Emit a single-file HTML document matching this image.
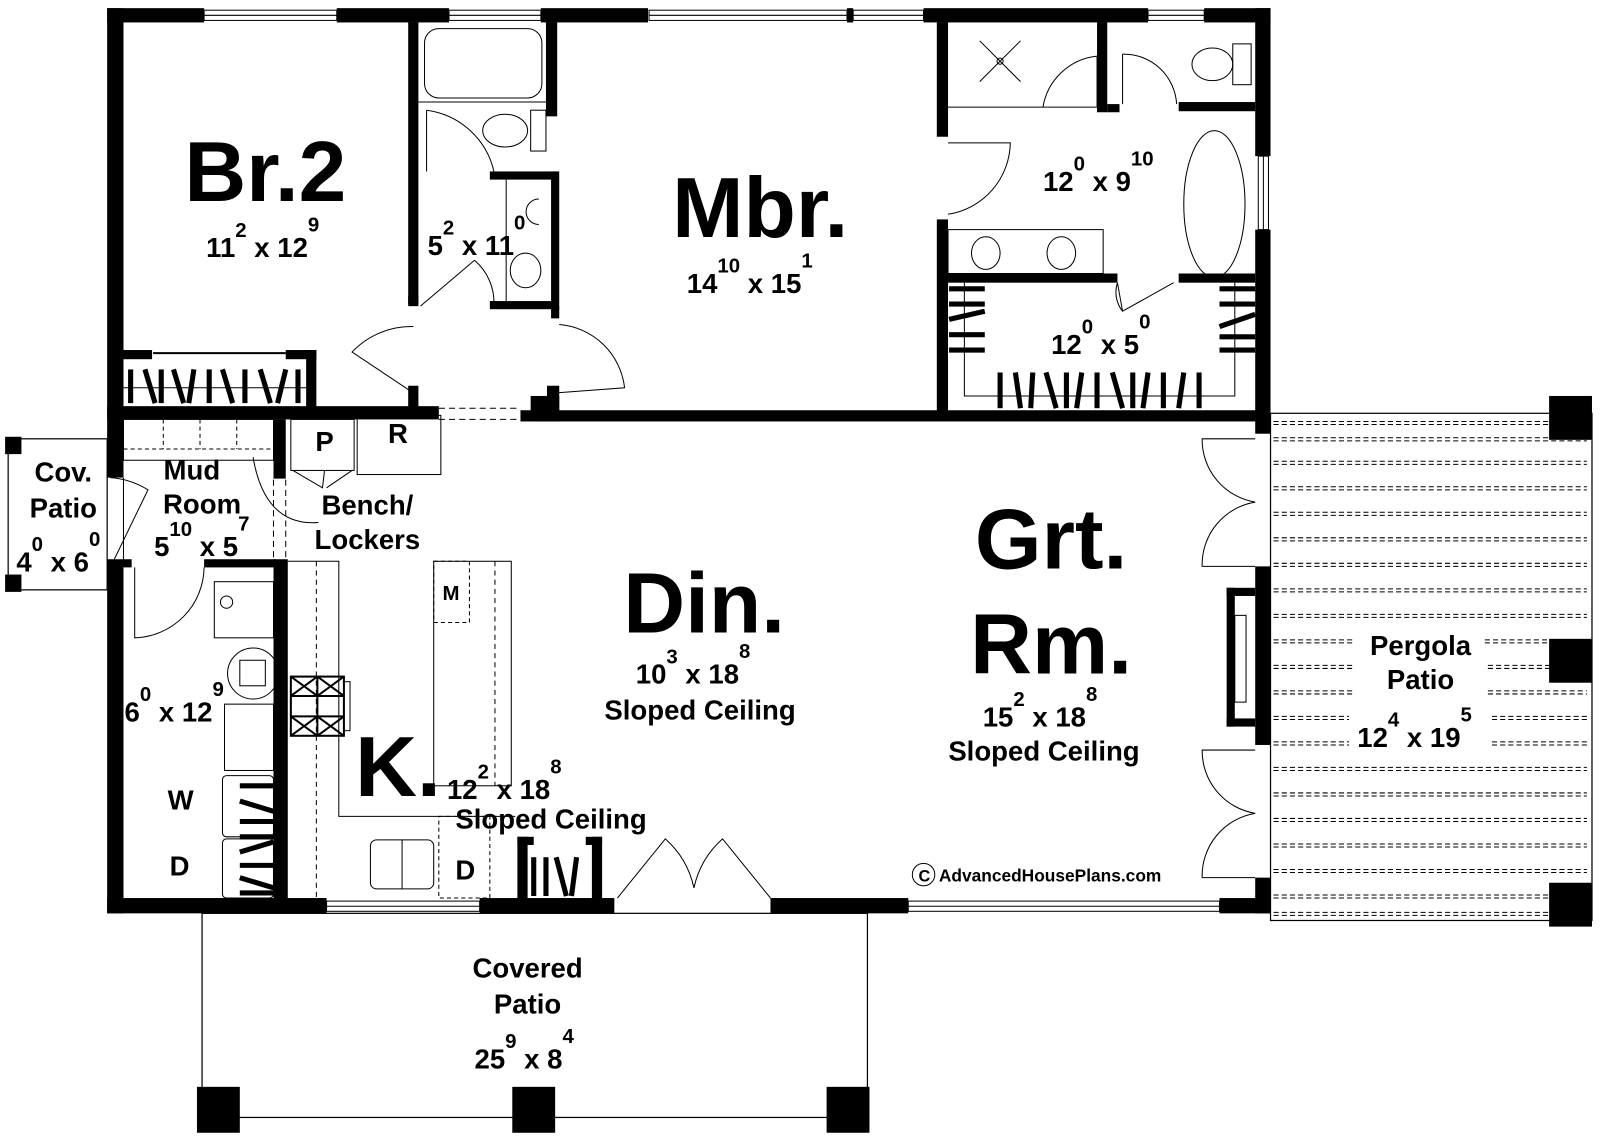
<!DOCTYPE html>
<html><head><meta charset="utf-8"><style>
html,body{margin:0;padding:0;background:#fff}
svg{display:block}
text{font-family:"Liberation Sans",Arial,sans-serif;fill:#000}
.big{font-weight:bold;font-size:84px}
.d{font-size:27px;font-weight:bold}
.s{font-size:20px;font-weight:bold}
.l{font-size:27px;font-weight:bold}
</style></head><body>
<svg width="1600" height="1139" viewBox="0 0 1600 1139" xmlns="http://www.w3.org/2000/svg">
<rect width="1600" height="1139" fill="#fff"/>
<g transform="scale(1.0205)">
<g fill="none" stroke="#000" stroke-width="1.2">
<rect x="8" y="430" width="97" height="148"/>
<rect x="198" y="895" width="652" height="200"/>
<rect x="1245" y="405" width="315" height="497"/>
</g>
<g stroke="#000" stroke-width="1" stroke-dasharray="5 3">
<line x1="1248" y1="413" x2="1555" y2="413"/><line x1="1248" y1="416" x2="1555" y2="416"/>
<line x1="1248" y1="429" x2="1555" y2="429"/><line x1="1248" y1="432" x2="1555" y2="432"/>
<line x1="1248" y1="452" x2="1555" y2="452"/><line x1="1248" y1="455" x2="1555" y2="455"/>
<line x1="1248" y1="477" x2="1555" y2="477"/><line x1="1248" y1="480" x2="1555" y2="480"/>
<line x1="1248" y1="502" x2="1555" y2="502"/><line x1="1248" y1="505" x2="1555" y2="505"/>
<line x1="1248" y1="527" x2="1555" y2="527"/><line x1="1248" y1="530" x2="1555" y2="530"/>
<line x1="1248" y1="552" x2="1555" y2="552"/><line x1="1248" y1="555" x2="1555" y2="555"/>
<line x1="1248" y1="577" x2="1555" y2="577"/><line x1="1248" y1="580" x2="1555" y2="580"/>
<line x1="1248" y1="602" x2="1555" y2="602"/><line x1="1248" y1="605" x2="1555" y2="605"/>
<line x1="1248" y1="627" x2="1325" y2="627"/><line x1="1248" y1="630" x2="1325" y2="630"/>
<line x1="1455" y1="627" x2="1555" y2="627"/><line x1="1455" y1="630" x2="1555" y2="630"/>
<line x1="1248" y1="652" x2="1325" y2="652"/><line x1="1248" y1="655" x2="1325" y2="655"/>
<line x1="1458" y1="652" x2="1555" y2="652"/><line x1="1458" y1="655" x2="1555" y2="655"/>
<line x1="1248" y1="677" x2="1325" y2="677"/><line x1="1248" y1="680" x2="1325" y2="680"/>
<line x1="1458" y1="677" x2="1555" y2="677"/><line x1="1458" y1="680" x2="1555" y2="680"/>
<line x1="1248" y1="702" x2="1322" y2="702"/><line x1="1248" y1="705" x2="1322" y2="705"/>
<line x1="1462" y1="702" x2="1555" y2="702"/><line x1="1462" y1="705" x2="1555" y2="705"/>
<line x1="1248" y1="727" x2="1322" y2="727"/><line x1="1248" y1="730" x2="1322" y2="730"/>
<line x1="1462" y1="727" x2="1555" y2="727"/><line x1="1462" y1="730" x2="1555" y2="730"/>
<line x1="1248" y1="752" x2="1555" y2="752"/><line x1="1248" y1="755" x2="1555" y2="755"/>
<line x1="1248" y1="777" x2="1555" y2="777"/><line x1="1248" y1="780" x2="1555" y2="780"/>
<line x1="1248" y1="802" x2="1555" y2="802"/><line x1="1248" y1="805" x2="1555" y2="805"/>
<line x1="1248" y1="827" x2="1555" y2="827"/><line x1="1248" y1="830" x2="1555" y2="830"/>
<line x1="1248" y1="852" x2="1555" y2="852"/><line x1="1248" y1="855" x2="1555" y2="855"/>
<line x1="1248" y1="877" x2="1555" y2="877"/><line x1="1248" y1="880" x2="1555" y2="880"/>
<line x1="1248" y1="894" x2="1555" y2="894"/><line x1="1248" y1="897" x2="1555" y2="897"/>
</g>
<g fill="#000">
<rect x="1518" y="388" width="42" height="43"/>
<rect x="1518" y="626" width="42" height="43"/>
<rect x="1518" y="865" width="42" height="43"/>
<rect x="193" y="1065" width="42" height="45"/>
<rect x="502" y="1065" width="42" height="45"/>
<rect x="810" y="1065" width="42" height="45"/>
<rect x="5" y="428" width="16" height="17"/>
<rect x="5" y="563" width="16" height="17"/>
<rect x="105" y="8" width="95" height="14"/>
<rect x="330" y="8" width="110" height="14"/>
<rect x="530" y="8" width="105" height="14"/>
<rect x="830" y="8" width="6" height="14"/>
<rect x="905" y="8" width="220" height="14"/>
<rect x="1180" y="8" width="65" height="14"/>
<rect x="105" y="8" width="16" height="460"/>
<rect x="105" y="548" width="16" height="347"/>
<rect x="1230" y="8" width="15" height="145"/>
<rect x="1230" y="225" width="15" height="200"/>
<rect x="1230" y="555" width="15" height="175"/>
<rect x="1230" y="860" width="15" height="35"/>
<rect x="105" y="880" width="215" height="15"/>
<rect x="470" y="880" width="132" height="15"/>
<rect x="755" y="880" width="135" height="15"/>
<rect x="1195" y="880" width="50" height="15"/>
<rect x="105" y="398" width="325" height="13"/>
<rect x="510" y="402" width="735" height="11"/>
<rect x="520" y="388" width="28" height="25"/>
<rect x="400" y="22" width="10" height="278"/>
<rect x="535" y="22" width="11" height="92"/>
<rect x="480" y="168" width="66" height="8"/>
<rect x="540" y="168" width="8" height="135"/>
<rect x="480" y="295" width="66" height="8"/>
<rect x="400" y="290" width="10" height="8"/>
<rect x="540" y="300" width="8" height="12"/>
<rect x="400" y="378" width="10" height="25"/>
<rect x="536" y="378" width="12" height="25"/>
<rect x="918" y="22" width="11" height="112"/>
<rect x="918" y="215" width="11" height="190"/>
<rect x="1075" y="22" width="10" height="88"/>
<rect x="1085" y="102" width="12" height="8"/>
<rect x="1155" y="100" width="75" height="9"/>
<rect x="929" y="268" width="166" height="9"/>
<rect x="1155" y="268" width="75" height="9"/>
<rect x="121" y="343" width="28" height="9"/>
<rect x="280" y="343" width="30" height="9"/>
<rect x="300" y="343" width="10" height="60"/>
<rect x="268" y="411" width="12" height="58"/>
<rect x="268" y="548" width="14" height="335"/>
<rect x="200" y="548" width="70" height="8"/>
<rect x="121" y="548" width="8" height="8"/>
<rect x="507" y="820" width="10" height="62"/>
<rect x="580" y="820" width="10" height="62"/>
<rect x="507" y="820" width="16" height="8"/>
<rect x="574" y="820" width="16" height="8"/>
<rect x="1202" y="576" width="28" height="8"/>
<rect x="1202" y="576" width="8" height="136"/>
<rect x="1202" y="704" width="28" height="8"/>
</g>
<g fill="#fff" stroke="#000" stroke-width="1">
<rect x="200" y="10" width="130" height="10"/>
<rect x="440" y="10" width="90" height="10"/>
<rect x="636" y="10" width="194" height="10"/>
<rect x="836" y="10" width="69" height="10"/>
<rect x="1125" y="10" width="55" height="10"/>
<rect x="1233" y="153" width="10" height="72"/>
<rect x="320" y="883" width="150" height="10"/>
<rect x="890" y="883" width="305" height="10"/>
</g>
<g fill="none" stroke="#000" stroke-width="1">
<line x1="200" y1="15" x2="330" y2="15"/><line x1="440" y1="15" x2="530" y2="15"/>
<line x1="636" y1="15" x2="830" y2="15"/><line x1="836" y1="15" x2="905" y2="15"/>
<line x1="1125" y1="15" x2="1180" y2="15"/><line x1="1238" y1="153" x2="1238" y2="225"/>
<line x1="320" y1="888" x2="470" y2="888"/><line x1="890" y1="888" x2="1195" y2="888"/>
<line x1="430" y1="400" x2="510" y2="400" stroke-dasharray="6 4"/>
<line x1="430" y1="411" x2="510" y2="411" stroke-dasharray="6 4"/>
<rect x="416" y="28" width="115" height="68" rx="14"/>
<line x1="410" y1="100" x2="535" y2="100"/>
<rect x="520" y="108" width="15" height="40"/>
<ellipse cx="495" cy="128" rx="22" ry="16"/>
<path d="M418 108 L418 168 M418 108 A78 78 0 0 1 484 168"/>
<line x1="496" y1="176" x2="496" y2="295"/>
<path d="M528 195 A12 12 0 1 0 528 220"/>
<ellipse cx="515" cy="265" rx="15" ry="17"/>
<path d="M412 300 L465 255 M465 255 A55 55 0 0 1 484 300"/>
<path d="M405 385 L345 345 A80 80 0 0 1 405 320"/>
<path d="M545 385 L612 380 A70 70 0 0 0 548 318"/>
<line x1="150" y1="346" x2="280" y2="346" stroke-width="2"/>
<line x1="121" y1="380" x2="300" y2="380"/>
<line x1="929" y1="105" x2="1075" y2="105"/>
<line x1="960" y1="40" x2="1000" y2="80"/><line x1="1000" y1="40" x2="960" y2="80"/>
<circle cx="980" cy="60" r="3"/>
<path d="M1075 55 L1075 105 M1075 55 A60 60 0 0 0 1022 105"/>
<path d="M1100 53 L1100 102 M1100 53 A52 52 0 0 1 1153 102"/>
<rect x="1208" y="43" width="18" height="40"/>
<ellipse cx="1188" cy="63" rx="20" ry="16"/>
<path d="M929 140 L990 140 A72 72 0 0 1 929 210"/>
<ellipse cx="1190" cy="200" rx="30" ry="72"/>
<rect x="929" y="225" width="152" height="43"/>
<ellipse cx="966" cy="248" rx="14" ry="16"/><ellipse cx="1040" cy="248" rx="14" ry="16"/>
<path d="M1095 277 L1100 305 L1150 277 M1095 277 A30 30 0 0 0 1100 305"/>
<polyline points="945,277 945,388 1210,388 1210,277"/>
<rect x="121" y="411" width="147" height="40"/>
<line x1="160" y1="411" x2="160" y2="440" stroke-dasharray="4 3"/>
<line x1="196" y1="411" x2="196" y2="440" stroke-dasharray="4 3"/>
<line x1="232" y1="411" x2="232" y2="440" stroke-dasharray="4 3"/>
<line x1="121" y1="440" x2="268" y2="440" stroke-dasharray="4 3"/>
<path d="M248 448 C255 490 275 515 312 512"/>
<path d="M121 468 L121 548 M108 468 A80 80 0 0 1 145 480 L112 548"/>
<path d="M132 556 L132 625 A70 70 0 0 0 200 556"/>
<line x1="280" y1="470" x2="280" y2="548" stroke-dasharray="6 4"/>
<line x1="268" y1="470" x2="268" y2="548" stroke-dasharray="6 4"/>
<rect x="285" y="411" width="62" height="50"/>
<rect x="350" y="407" width="82" height="58"/>
<path d="M287 461 L316 478 L318 461 M320 478 L345 461"/>
<rect x="210" y="570" width="58" height="55"/>
<circle cx="222" cy="590" r="6"/>
<circle cx="248" cy="660" r="25"/>
<rect x="235" y="647" width="25" height="25"/>
<rect x="220" y="690" width="48" height="65"/>
<rect x="218" y="760" width="50" height="60" rx="4"/>
<rect x="218" y="822" width="50" height="58" rx="4"/>
<polyline points="282,550 332,550 332,800 505,800"/>
<line x1="310" y1="550" x2="310" y2="880" stroke-dasharray="5 4"/>
<rect x="425" y="550" width="76" height="220"/>
<rect x="425" y="550" width="35" height="60" stroke-dasharray="4 3"/>
<line x1="485" y1="550" x2="485" y2="770" stroke-dasharray="5 4"/>
<rect x="363" y="823" width="62" height="48" rx="6"/>
<line x1="394" y1="823" x2="394" y2="871"/>
<rect x="430" y="800" width="50" height="80" stroke-dasharray="4 3"/>
<path d="M605 880 L652 822 A90 90 0 0 1 680 870 M755 880 L708 822 A90 90 0 0 0 680 870"/>
<path d="M1230 430 L1178 430 A62 62 0 0 0 1230 492 A62 62 0 0 0 1178 555 L1230 555"/>
<path d="M1230 735 L1178 735 A62 62 0 0 0 1230 797 A62 62 0 0 0 1178 860 L1230 860"/>
<rect x="1210" y="603" width="11" height="85"/>
<circle cx="905" cy="857" r="11"/>
</g>
<g fill="none" stroke="#000" stroke-width="2">
<rect x="285" y="663" width="52" height="58"/>
<line x1="311" y1="663" x2="311" y2="721"/>
<line x1="285" y1="682" x2="337" y2="682"/><line x1="285" y1="702" x2="337" y2="702"/>
<line x1="285" y1="663" x2="311" y2="682"/><line x1="311" y1="663" x2="285" y2="682"/>
<line x1="311" y1="663" x2="337" y2="682"/><line x1="337" y1="663" x2="311" y2="682"/>
<line x1="285" y1="702" x2="311" y2="721"/><line x1="311" y1="702" x2="285" y2="721"/>
<line x1="311" y1="702" x2="337" y2="721"/><line x1="337" y1="702" x2="311" y2="721"/>
<rect x="337" y="668" width="6" height="48" stroke-width="1"/>
</g>
<g stroke="#000" stroke-width="5">
<line x1="128" y1="362" x2="128" y2="395"/><line x1="142" y1="362" x2="152" y2="395"/><line x1="158" y1="362" x2="158" y2="395"/>
<line x1="170" y1="362" x2="180" y2="395"/><line x1="190" y1="362" x2="185" y2="395"/><line x1="205" y1="362" x2="205" y2="395"/>
<line x1="218" y1="362" x2="228" y2="395"/><line x1="240" y1="362" x2="240" y2="395"/><line x1="255" y1="362" x2="265" y2="395"/>
<line x1="280" y1="362" x2="272" y2="395"/><line x1="292" y1="362" x2="292" y2="395"/>
<line x1="980" y1="365" x2="980" y2="400"/><line x1="995" y1="365" x2="1000" y2="400"/><line x1="1012" y1="365" x2="1010" y2="400"/>
<line x1="1025" y1="365" x2="1035" y2="400"/><line x1="1045" y1="365" x2="1045" y2="400"/><line x1="1060" y1="365" x2="1055" y2="400"/>
<line x1="1075" y1="365" x2="1075" y2="400"/><line x1="1090" y1="365" x2="1100" y2="400"/><line x1="1110" y1="365" x2="1110" y2="400"/>
<line x1="1125" y1="365" x2="1120" y2="400"/><line x1="1140" y1="365" x2="1140" y2="400"/><line x1="1160" y1="365" x2="1155" y2="400"/><line x1="1175" y1="365" x2="1175" y2="400"/>
<line x1="930" y1="283" x2="965" y2="283"/><line x1="930" y1="298" x2="965" y2="298"/><line x1="930" y1="313" x2="965" y2="305"/><line x1="930" y1="328" x2="965" y2="328"/><line x1="930" y1="343" x2="965" y2="343"/>
<line x1="1195" y1="283" x2="1230" y2="283"/><line x1="1195" y1="298" x2="1230" y2="298"/><line x1="1195" y1="320" x2="1230" y2="308"/><line x1="1195" y1="330" x2="1230" y2="330"/><line x1="1195" y1="343" x2="1230" y2="343"/>
<line x1="235" y1="770" x2="268" y2="770"/><line x1="235" y1="785" x2="268" y2="795"/><line x1="235" y1="805" x2="268" y2="805"/><line x1="235" y1="820" x2="268" y2="820"/>
<line x1="235" y1="835" x2="268" y2="825"/><line x1="235" y1="848" x2="268" y2="848"/><line x1="235" y1="860" x2="268" y2="870"/><line x1="235" y1="875" x2="268" y2="875"/>
<line x1="523" y1="840" x2="523" y2="878"/><line x1="535" y1="840" x2="535" y2="878"/><line x1="545" y1="840" x2="555" y2="878"/><line x1="565" y1="840" x2="560" y2="878"/>
</g>
<text class="big" x="260" y="197" text-anchor="middle">Br.2</text>
<text class="d" x="202" y="252">11<tspan class="s" dy="-20">2</tspan><tspan dy="20"> x 12</tspan><tspan class="s" dy="-25">9</tspan></text>
<text class="d" x="419" y="250">5<tspan class="s" dy="-20">2</tspan><tspan dy="20"> x 11</tspan><tspan class="s" dy="-25">0</tspan></text>
<text class="big" x="745" y="232" text-anchor="middle">Mbr.</text>
<text class="d" x="673" y="287">14<tspan class="s" dy="-20">10</tspan><tspan dy="20"> x 15</tspan><tspan class="s" dy="-25">1</tspan></text>
<text class="d" x="1022" y="187">12<tspan class="s" dy="-20">0</tspan><tspan dy="20"> x 9</tspan><tspan class="s" dy="-25">10</tspan></text>
<text class="d" x="1030" y="347">12<tspan class="s" dy="-20">0</tspan><tspan dy="20"> x 5</tspan><tspan class="s" dy="-25">0</tspan></text>
<text class="l" x="62" y="472" text-anchor="middle">Cov.</text>
<text class="l" x="62" y="507" text-anchor="middle">Patio</text>
<text class="d" x="16" y="560">4<tspan class="s" dy="-20">0</tspan><tspan dy="20"> x 6</tspan><tspan class="s" dy="-25">0</tspan></text>
<text class="l" x="188" y="470" text-anchor="middle">Mud</text>
<text class="l" x="198" y="503" text-anchor="middle">Room</text>
<text class="d" x="151" y="545">5<tspan class="s" dy="-20">10</tspan><tspan dy="20"> x 5</tspan><tspan class="s" dy="-25">7</tspan></text>
<text class="l" x="318" y="442" text-anchor="middle">P</text>
<text class="l" x="390" y="434" text-anchor="middle">R</text>
<text class="l" x="360" y="504" text-anchor="middle">Bench/</text>
<text class="l" x="360" y="538" text-anchor="middle">Lockers</text>
<text class="s" x="442" y="588" text-anchor="middle">M</text>
<text class="d" x="122" y="707">6<tspan class="s" dy="-20">0</tspan><tspan dy="20"> x 12</tspan><tspan class="s" dy="-25">9</tspan></text>
<text class="l" x="177" y="793" text-anchor="middle">W</text>
<text class="l" x="176" y="858" text-anchor="middle">D</text>
<text class="l" x="456" y="862" text-anchor="middle">D</text>
<text class="big" x="690" y="620" text-anchor="middle">Din.</text>
<text class="d" x="623" y="670">10<tspan class="s" dy="-20">3</tspan><tspan dy="20"> x 18</tspan><tspan class="s" dy="-25">8</tspan></text>
<text class="l" x="686" y="705" text-anchor="middle">Sloped Ceiling</text>
<text class="big" x="1030" y="557" text-anchor="middle">Grt.</text>
<text class="big" x="1030" y="660" text-anchor="middle">Rm.</text>
<text class="d" x="963" y="712">15<tspan class="s" dy="-20">2</tspan><tspan dy="20"> x 18</tspan><tspan class="s" dy="-25">8</tspan></text>
<text class="l" x="1023" y="745" text-anchor="middle">Sloped Ceiling</text>
<text class="big" x="390" y="780" text-anchor="middle">K.</text>
<text class="d" x="438" y="783">12<tspan class="s" dy="-20">2</tspan><tspan dy="20"> x 18</tspan><tspan class="s" dy="-25">8</tspan></text>
<text class="l" x="540" y="812" text-anchor="middle">Sloped Ceiling</text>
<text class="l" x="1392" y="642" text-anchor="middle">Pergola</text>
<text class="l" x="1392" y="675" text-anchor="middle">Patio</text>
<text class="d" x="1330" y="732">12<tspan class="s" dy="-20">4</tspan><tspan dy="20"> x 19</tspan><tspan class="s" dy="-25">5</tspan></text>
<text class="l" x="517" y="958" text-anchor="middle">Covered</text>
<text class="l" x="517" y="993" text-anchor="middle">Patio</text>
<text class="d" x="465" y="1047">25<tspan class="s" dy="-20">9</tspan><tspan dy="20"> x 8</tspan><tspan class="s" dy="-25">4</tspan></text>
<text x="900" y="864" style="font-size:16px;font-weight:bold">C</text>
<text x="920" y="864" style="font-size:17px;font-weight:bold">AdvancedHousePlans.com</text>
</g>
</svg>
</body></html>
